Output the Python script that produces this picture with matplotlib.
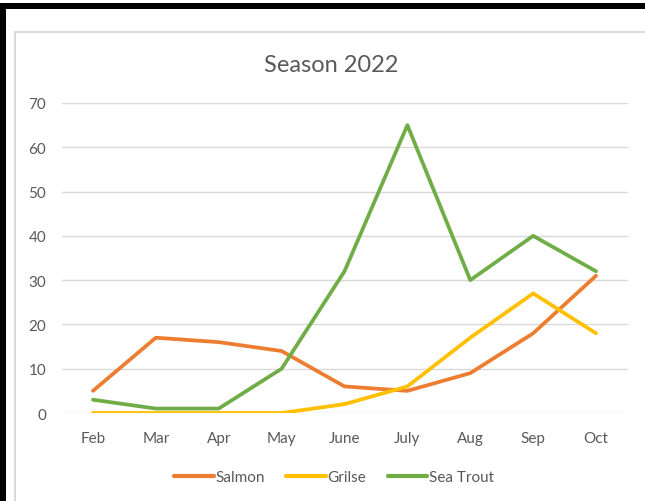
import matplotlib
matplotlib.use("Agg")
import matplotlib.pyplot as plt
from matplotlib.patches import Rectangle

months = ["Feb", "Mar", "Apr", "May", "June", "July", "Aug", "Sep", "Oct"]
salmon = [5, 17, 16, 14, 6, 5, 9, 18, 31]
grilse = [0, 0, 0, 0, 2, 6, 17, 27, 18]
sea_trout = [3, 1, 1, 10, 32, 65, 30, 40, 32]
yticks = [0, 10, 20, 30, 40, 50, 60, 70]

plt.rcParams['font.family'] = ['Lato', 'DejaVu Sans']
W, H = 645, 502
fig = plt.figure(figsize=(W / 100, H / 100), dpi=100)
fig.patch.set_facecolor('white')

# frame decorations
fig.add_artist(Rectangle((0, 1 - 10 / H), 1, 6 / H, transform=fig.transFigure,
                         facecolor='black', edgecolor='none'))
fig.add_artist(Rectangle((0, 0), 6 / W, 1 - 4 / H, transform=fig.transFigure,
                         facecolor='black', edgecolor='none'))
fig.add_artist(Rectangle((14.5 / W, -0.1), 1.2, 1.1 - 32.5 / H, transform=fig.transFigure,
                         facecolor='none', edgecolor='#d9d9d9', linewidth=1.5))

ax = fig.add_axes([61.5 / W, 1 - 414 / H, (627.5 - 61.5) / W, (414 - 104) / H])
x = list(range(len(months)))
kw = dict(lw=2.7, solid_capstyle='round', solid_joinstyle='round')
ax.plot(x, salmon, color='#ED7D31', label='Salmon', **kw)
ax.plot(x, grilse, color='#FFC000', label='Grilse', **kw)
ax.plot(x, sea_trout, color='#70AD47', label='Sea Trout', **kw)

ax.set_xlim(-0.5, len(months) - 0.5)
ax.set_ylim(0, 70)
ax.set_yticks(yticks)
ax.set_xticks(x)
ax.set_xticklabels(months)
ax.yaxis.grid(True, color='#d9d9d9', lw=1.0)
ax.set_axisbelow(True)
for s in ax.spines.values():
    s.set_visible(False)
ax.tick_params(axis='both', length=0, labelsize=11, labelcolor='#595959')
ax.tick_params(axis='y', pad=11)
ax.tick_params(axis='x', pad=13)

fig.text(331 / W, 1 - 66 / H, "Season 2022", ha='center', va='center',
         fontsize=17, color='#595959')

leg = fig.legend(loc='center', bbox_to_anchor=(334 / W, 1 - 478 / H), ncol=3,
                 frameon=False, fontsize=11, handlelength=2.6, handletextpad=0.1,
                 columnspacing=1.4)
for t in leg.get_texts():
    t.set_color('#595959')
for l in leg.get_lines():
    l.set_linewidth(3.0)

fig.savefig('out.png', dpi=100)
